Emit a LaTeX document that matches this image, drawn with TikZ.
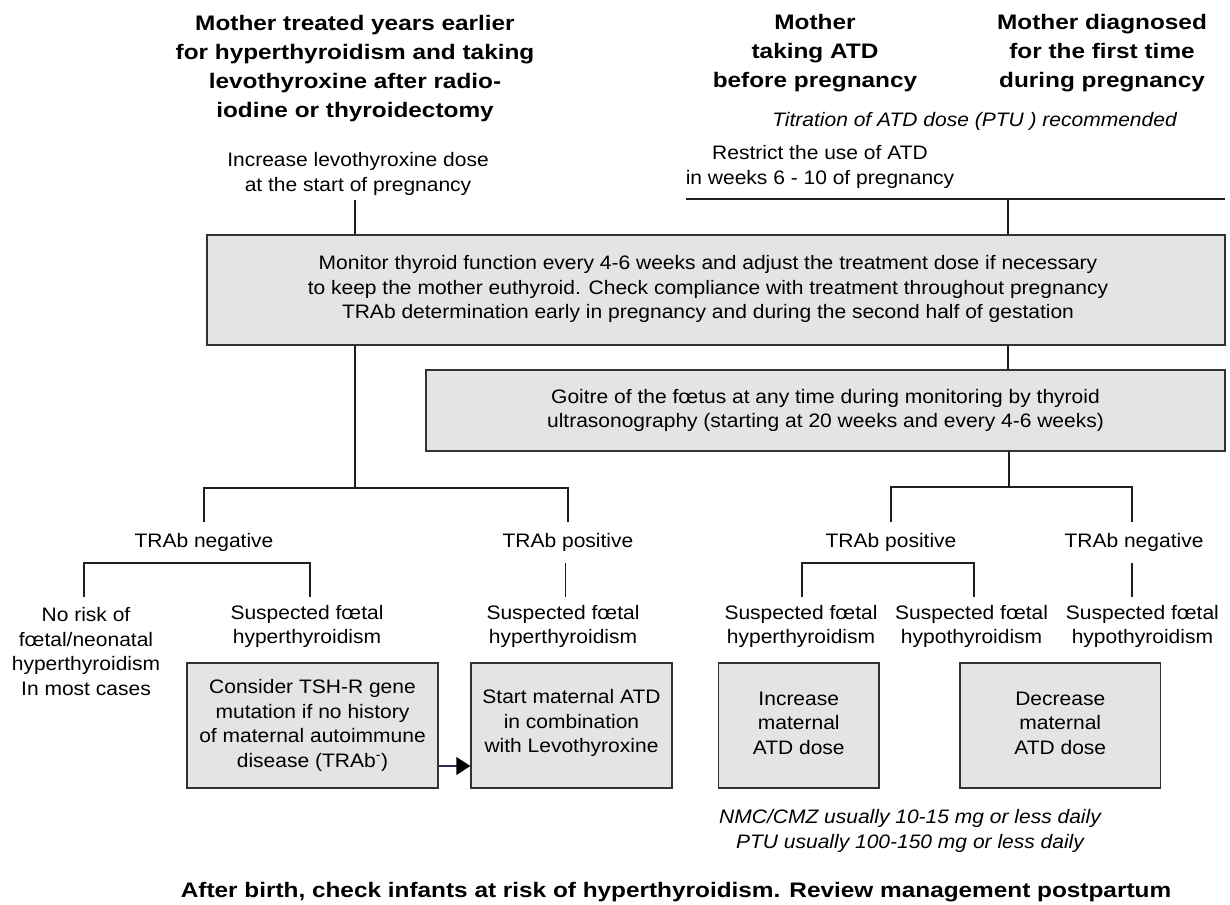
\documentclass[tikz,border=0pt]{standalone}
\usepackage{fontspec}
\setmainfont{Liberation Sans}[FakeStretch=1.077]
\newfontfamily\titlefont{Liberation Sans}[FakeStretch=1.16]
\usetikzlibrary{arrows.meta}
\definecolor{boxfill}{RGB}{228,228,228}
\definecolor{boxline}{RGB}{50,50,50}
\definecolor{connline}{RGB}{30,30,30}
\definecolor{navyline}{RGB}{40,45,100}
\tikzset{
  ttl/.style={inner sep=0pt, align=center, yshift=-2pt, font=\titlefont\bfseries\fontsize{21}{29}\selectfont},
  txt/.style={inner sep=0pt, align=center, yshift=-2pt, font=\fontsize{19.5}{24.6}\selectfont},
  itxt/.style={inner sep=0pt, align=center, yshift=-2pt, font=\itshape\fontsize{19.5}{24.6}\selectfont},
  box/.style={draw=boxline, fill=boxfill, line width=1.4pt, rectangle, inner sep=0pt, align=center, font=\fontsize{19.5}{24.6}\selectfont},
  conn/.style={draw=connline, line width=1.8pt},
}
\begin{document}
\begin{tikzpicture}[x=1pt,y=-1pt]
\useasboundingbox (0,0) rectangle (1230,904);
% titles
\node[ttl] (t1) at (355,66.5) {Mother treated years earlier\\for hyperthyroidism and taking\\levothyroxine after radio-\\iodine or thyroidectomy};
\node[ttl] (t2) at (815,51.5) {Mother\\taking ATD\\before pregnancy};
\node[ttl] (t3) at (1102,51.5) {Mother diagnosed\\for the first time\\during pregnancy};
\node[itxt] (titr) at (974.5,119) {Titration of ATD dose (PTU ) recommended};
\node[txt] (inc) at (358,172) {Increase levothyroxine dose\\at the start of pregnancy};
\node[txt] (restr) at (820,165) {Restrict the use of ATD\\in weeks 6 - 10 of pregnancy};
% main boxes
\node[box, minimum width=1018pt, minimum height=110pt,
  label={[txt, xshift=-8pt, yshift=3pt]center:{Monitor thyroid function every 4-6 weeks and adjust the treatment dose if necessary\\to keep the mother euthyroid. Check compliance with treatment throughout pregnancy\\TRAb determination early in pregnancy and during the second half of gestation}}] (main) at (716,290) {};
\node[box, minimum width=799pt, minimum height=81pt] (goitre) at (825.5,410.5) {Goitre of the f\oe tus at any time during monitoring by thyroid\\ultrasonography (starting at 20 weeks and every 4-6 weeks)};
% top connectors
\coordinate (hlL) at (686,199);
\coordinate (hlR) at (1225,199);
\coordinate (hlJ) at (1008,199);
\coordinate (incS) at (355,200);
\draw[conn] (hlL) -- (hlR);
\draw[conn] (hlJ) -- (hlJ |- main.north);
\draw[conn] (incS) -- (incS |- main.north);
\draw[conn] (main.south -| hlJ) -- (goitre.north -| hlJ);
% left tree
\node[txt] (neg1) at (204,540) {TRAb negative};
\node[txt] (pos1) at (568,540) {TRAb positive};
\coordinate (lj) at (355,488);
\draw[conn] (lj |- main.south) -- (lj);
\draw[conn] (204,522) -- (204,488) -- (568,488) -- (568,522);
\draw[conn] (84,597) -- (84,563) -- (310,563) -- (310,597);
\draw[conn] (565.5,563) -- (565.5,597);
\node[txt] (norisk) at (86,649.5) {No risk of\\f\oe tal/neonatal\\hyperthyroidism\\In most cases};
\node[txt] (susp1) at (307,624.5) {Suspected f\oe tal\\hyperthyroidism};
\node[txt] (susp2) at (563,624.5) {Suspected f\oe tal\\hyperthyroidism};
\node[box, minimum width=251pt, minimum height=125pt] (consider) at (312.5,725.5) {Consider TSH-R gene\\mutation if no history\\of maternal autoimmune\\disease (TRAb\textsuperscript{-})};
\node[box, minimum width=201pt, minimum height=125pt,
  label={[txt, yshift=4.5pt]center:{Start maternal ATD\\in combination\\with Levothyroxine}}] (start) at (571.5,725.5) {};
\draw[draw=navyline, line width=1.4pt, -{Triangle[length=14pt,width=18pt,color=black]}] (consider.east |- 0,766) -- (start.west |- 0,766);
% right tree
\node[txt] (pos2) at (891,540) {TRAb positive};
\node[txt] (neg2) at (1134,540) {TRAb negative};
\coordinate (rj) at (1009,487);
\draw[conn] (rj |- goitre.south) -- (rj);
\draw[conn] (891,522) -- (891,487) -- (1132,487) -- (1132,522);
\draw[conn] (802,597) -- (802,563) -- (974,563) -- (974,597);
\draw[conn] (1132,563) -- (1132,597);
\node[txt] (susp3) at (801,624.5) {Suspected f\oe tal\\hyperthyroidism};
\node[txt] (susp4) at (971.6,624.5) {Suspected f\oe tal\\hypothyroidism};
\node[txt] (susp5) at (1142.4,624.5) {Suspected f\oe tal\\hypothyroidism};
\node[box, minimum width=160.5pt, minimum height=125pt,
  label={[txt, yshift=4.5pt]center:{Increase\\maternal\\ATD dose}}] (incr) at (798.75,725.5) {};
\node[box, minimum width=200.5pt, minimum height=125pt,
  label={[txt, yshift=4.5pt]center:{Decrease\\maternal\\ATD dose}}] (decr) at (1060.25,725.5) {};
\node[itxt] (notes) at (910,829) {NMC/CMZ usually 10-15 mg or less daily\\PTU usually 100-150 mg or less daily};
\node[ttl] (after) at (676,890) {After birth, check infants at risk of hyperthyroidism. Review management postpartum};
\end{tikzpicture}
\end{document}
